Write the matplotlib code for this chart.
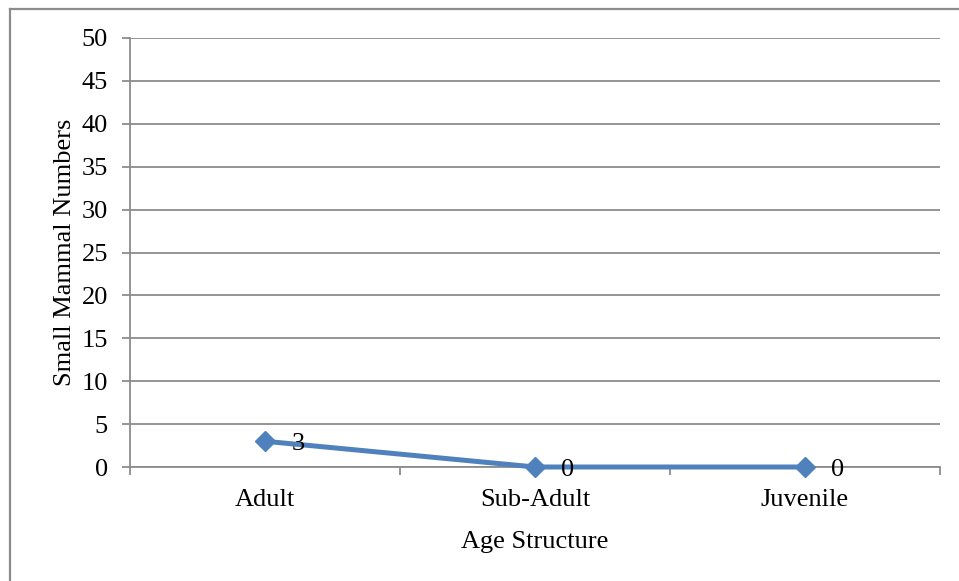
import matplotlib
matplotlib.use("Agg")
import matplotlib.pyplot as plt
from matplotlib.lines import Line2D

categories = ["Adult", "Sub-Adult", "Juvenile"]
counts = [3, 0, 0]
y_ticks = [0, 5, 10, 15, 20, 25, 30, 35, 40, 45, 50]

plt.rcParams["font.family"] = ["Liberation Serif", "DejaVu Serif"]
W, H = 959, 581
fig = plt.figure(figsize=(W / 100, H / 100), dpi=100)
ax = fig.add_axes([130 / W, 1 - 467 / H, 810 / W, 429 / H])

grid_c = "#8c8c8c"
blue = "#4f81bd"
fs = 19

x = list(range(len(categories)))
ax.plot(x, counts, color=blue, lw=3.6, marker="D", ms=10.5,
        markerfacecolor=blue, markeredgecolor=blue, zorder=3, clip_on=False)
for xi, v in zip(x, counts):
    ax.annotate(str(v), (xi, v), xytext=(19, -2), textcoords="offset points",
                ha="left", va="center", fontsize=fs, zorder=4)

ax.set_xlim(-0.5, len(categories) - 0.5)
ax.set_ylim(0, 50)
ax.set_yticks(y_ticks)
ax.set_yticklabels([str(t) for t in y_ticks], fontsize=fs)
ax.set_xticks(x)
ax.set_xticklabels(categories, fontsize=fs)
ax.set_xticks([i - 0.5 for i in range(len(categories) + 1)], minor=True)
ax.tick_params(axis="x", which="major", length=0, pad=16)
ax.tick_params(axis="x", which="minor", length=6, width=1.3, color=grid_c)
ax.tick_params(axis="y", length=6, width=1.3, color=grid_c, pad=10)

ax.grid(axis="y", color=grid_c, lw=1.3)
ax.set_axisbelow(True)
for s in ("top", "right"):
    ax.spines[s].set_visible(False)
for s in ("left", "bottom"):
    ax.spines[s].set_color(grid_c)
    ax.spines[s].set_linewidth(1.3)

ax.set_xlabel("Age Structure", fontsize=fs, labelpad=14)
ax.set_ylabel("Small Mammal Numbers", fontsize=fs, labelpad=4)

# frame around the chart area
fig.add_artist(Line2D([9.5 / W, 1.0], [1 - 8.5 / H] * 2, color=grid_c, lw=1.6,
                      transform=fig.transFigure))
fig.add_artist(Line2D([9.5 / W] * 2, [0.0, 1 - 8.5 / H], color=grid_c, lw=1.6,
                      transform=fig.transFigure))

fig.savefig("out.png", dpi=100, facecolor="white")
